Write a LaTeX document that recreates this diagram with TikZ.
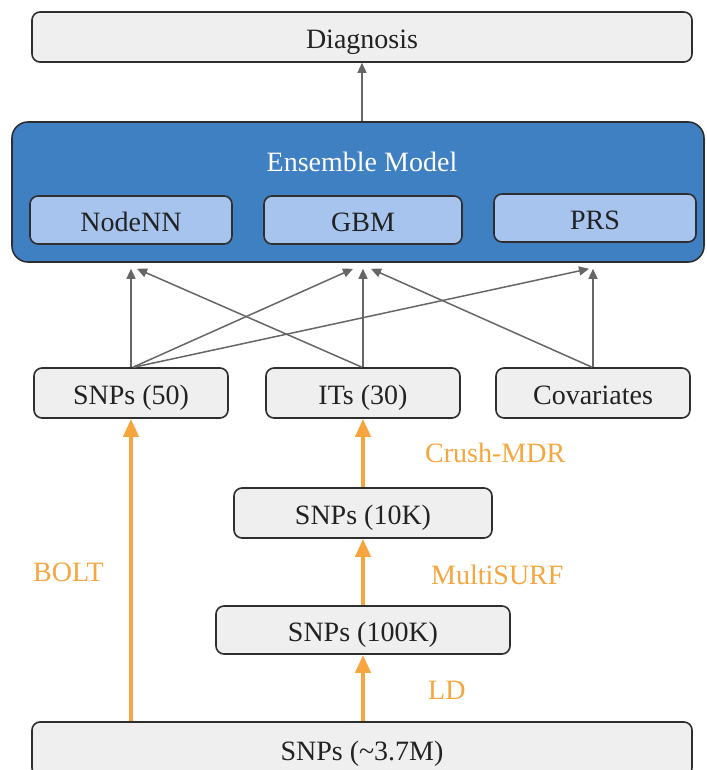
\documentclass[tikz,border=0pt]{standalone}
\usepackage{fontspec}
\setmainfont{Liberation Serif}
\usetikzlibrary{arrows.meta,calc}
\definecolor{boxfill}{HTML}{EFEFEF}
\definecolor{boxline}{HTML}{2E2E2E}
\definecolor{ensblue}{HTML}{3F80C3}
\definecolor{innerblue}{HTML}{A7C4EE}
\definecolor{flow}{HTML}{F7A53E}
\definecolor{linkgray}{HTML}{666666}
\definecolor{ink}{HTML}{222222}

\begin{document}
\begin{tikzpicture}[x=1pt,y=-1pt,
  every node/.style={font=\fontsize{28}{32}\selectfont, text=ink},
  greybox/.style={draw=boxline, line width=1.6pt, fill=boxfill,
    rounded corners=8pt, inner sep=0pt, minimum height=50pt,
    text height=25pt, text depth=2pt},
  bluebox/.style={draw=boxline, line width=1.6pt, fill=innerblue,
    rounded corners=8pt, inner sep=0pt, minimum height=48pt,
    text height=25pt, text depth=2pt},
  link/.style={draw=linkgray, line width=1.5pt,
    -{Triangle[length=10pt,width=9pt]}},
  flowarrow/.style={draw=flow, line width=4pt,
    -{Triangle[length=18pt,width=15pt]}},
  flowlabel/.style={text=flow, anchor=west, inner sep=0pt}
]
\useasboundingbox (0,0) rectangle (706,770);

% output
\node[greybox, minimum width=660pt] (diag) at (362,37) {Diagnosis};

% ensemble container and its members
\node[draw=boxline, line width=1.6pt, fill=ensblue, rounded corners=16pt,
      minimum width=692pt, minimum height=140pt, inner sep=0pt] (ens) at (358,192) {};
\node[text=white, inner sep=0pt] (enstitle) at (362,162) {Ensemble Model};
\node[bluebox, minimum width=202pt] (nn)  at (131,220) {NodeNN};
\node[bluebox, minimum width=198pt] (gbm) at (363,220) {GBM};
\node[bluebox, minimum width=202pt] (prs) at (595,218) {PRS};

% feature sets
\node[greybox, minimum width=194pt] (snp50) at (131,393) {SNPs (50)};
\node[greybox, minimum width=194pt] (its)   at (363,393) {ITs (30)};
\node[greybox, minimum width=194pt] (cov)   at (593,393) {Covariates};

% selection pipeline
\node[greybox, minimum width=258pt] (snp10k)  at (363,513) {SNPs (10K)};
\node[greybox, minimum width=294pt, minimum height=48pt] (snp100k) at (363,630) {SNPs (100K)};
\node[greybox, minimum width=660pt, minimum height=54pt] (snpall)  at (362,749) {SNPs (\textasciitilde3.7M)};

% ensemble -> diagnosis
\draw[link] (diag.south |- ens.north) -- (diag.south);

% features -> models
\draw[link] (snp50.north) -- ($(snp50.north |- ens.south)+(0,6)$);
\draw[link] ($(snp50.north)+(2,0)$) -- ($(gbm.south |- ens.south)+(-10,6)$);
\draw[link] ($(snp50.north)+(3,0)$) -- ($(prs.south |- ens.south)+(-6,6)$);
\draw[link] ($(its.north)+(-1,0)$)  -- ($(nn.south |- ens.south)+(6,6)$);
\draw[link] (its.north) -- ($(its.north |- ens.south)+(0,6)$);
\draw[link] ($(cov.north)+(-1,0)$)  -- ($(gbm.south |- ens.south)+(8,6)$);
\draw[link] (cov.north) -- ($(cov.north |- ens.south)+(0,6)$);

% selection arrows
\draw[flowarrow] (snp50.south |- snpall.north) -- (snp50.south);
\draw[flowarrow] (snp100k.south |- snpall.north) -- (snp100k.south);
\draw[flowarrow] (snp10k.south |- snp100k.north) -- (snp10k.south);
\draw[flowarrow] (its.south |- snp10k.north) -- (its.south);

% selection method labels
\node[flowlabel] (lbolt)  at (33,572)  {BOLT};
\node[flowlabel] (lcrush) at (425,453) {Crush-MDR};
\node[flowlabel] (lmsurf) at (431,575) {MultiSURF};
\node[flowlabel] (lld)    at (428,690) {LD};
\end{tikzpicture}
\end{document}
